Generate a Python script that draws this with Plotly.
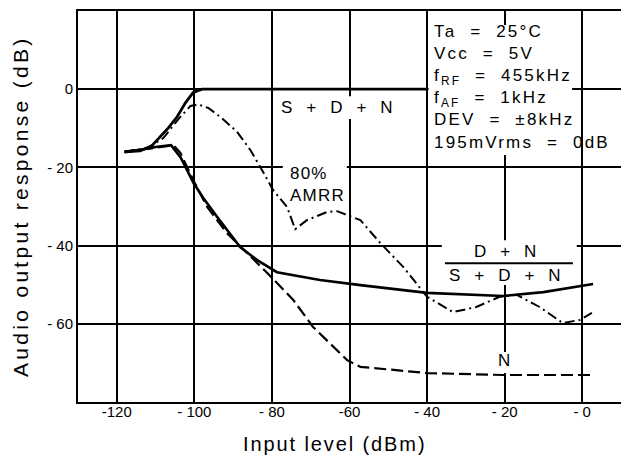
import plotly.graph_objects as go

# ---- data ----
sdn_x = [-118, -114, -111, -108.8, -106.7, -104.4, -102.3, -100.3, -98, -40]
sdn_y = [-16, -15.8, -14.5, -12.2, -9.9, -7.0, -3.5, -0.8, 0, 0]

dn_x = [-118, -114, -110, -106, -103.5, -100.2, -97.7, -94.1, -88.2, -83.8, -78.7,
        -74.5, -67.6, -57.2, -40, -20.4, -10, 2.8]
dn_y = [-16, -15.5, -14.8, -14.3, -17.5, -24, -27.8, -32.7, -40.4, -43.7, -46.8,
        -47.5, -48.8, -50.1, -52.1, -52.9, -51.9, -49.8]

n_x = [-118, -114, -110, -105.4, -103.6, -100.3, -96.7, -91.6, -86.4, -81.2, -74.5,
       -69.4, -60.6, -57.2, -40, -20.4, 2]
n_y = [-16.2, -15.5, -15.0, -14.3, -16.3, -23.2, -30.1, -36.8, -41.9, -47, -53.9,
       -60.8, -69.3, -71, -72.6, -73.1, -73.1]

am_x = [-118, -112, -108, -104, -101, -99, -96.4, -92.9, -89, -85.6, -83, -79.7,
        -76.1, -74, -71, -65.8, -63.2, -57.2, -52.1, -46.1, -40, -33.3, -27.3,
        -21.3, -16.9, -11, -5, -0.6, 2.5]
am_y = [-16, -15, -12.5, -7.5, -4.3, -3.9, -4.8, -7.4, -10.9, -15.5, -19.9, -25.8,
        -30.1, -35.8, -33.5, -31.4, -31.2, -33.5, -39.3, -45.5, -53.1, -57, -55.7,
        -53.1, -52.6, -55.7, -59.8, -59, -57.2]

x_ticks = [-120, -100, -80, -60, -40, -20, 0]
x_labels = ["-120", "- 100", "- 80", "-60", "- 40", "- 20", "- 0"]
y_ticks = [0, -20, -40, -60]
y_labels = ["0", "- 20", "- 40", "- 60"]

conditions = ["Ta  =  25°C", "Vcc  =  5V", "f<sub>RF</sub>  =  455kHz",
              "f<sub>AF</sub>  =  1kHz", "DEV  =  ±8kHz", "195mVrms  =  0dB"]

FONT = "Liberation Sans, Arial, sans-serif"


def ls(t, px=1.2):
    t = t.replace("  ", "\u00a0\u00a0")
    return f'<span style="letter-spacing:{px}px">{t}</span>'


fig = go.Figure()
fig.add_trace(go.Scatter(x=n_x, y=n_y, mode="lines",
                         line=dict(color="black", width=2.2, dash="12px,5px")))
fig.add_trace(go.Scatter(x=am_x, y=am_y, mode="lines",
                         line=dict(color="black", width=2, dash="10px,4px,2px,4px")))
fig.add_trace(go.Scatter(x=dn_x, y=dn_y, mode="lines",
                         line=dict(color="black", width=2.6)))
fig.add_trace(go.Scatter(x=sdn_x, y=sdn_y, mode="lines",
                         line=dict(color="black", width=2.8)))

# white label backgrounds covering the grid (between grid and traces)
boxes = [(-39.6, -2.6, -16.8, 16.4), (-77.2, -48.3, -7.6, -1.8),
         (-77.2, -60.7, -30.4, -18.1), (-36.2, -1.4, -50.1, -38.6),
         (-21.8, -17.4, -72.6, -67.2)]
for x0, x1, y0, y1 in boxes:
    fig.add_shape(type="rect", x0=x0, x1=x1, y0=y0, y1=y1, xref="x", yref="y",
                  fillcolor="white", line=dict(width=0), layer="between")

# fraction bar
fig.add_shape(type="line", x0=-35.4, x1=-2.4, y0=-44.5, y1=-44.5,
              line=dict(color="black", width=2), layer="above")

ann_font = dict(family=FONT, size=17, color="black")
fig.add_annotation(x=-38.8, y=17.6, xref="x", yref="y", xanchor="left", yanchor="top",
                   align="left", showarrow=False, font=ann_font,
                   text="<br>".join(ls(c, 2.2) for c in conditions))
fig.add_annotation(x=-63, y=-4.6, xref="x", yref="y", showarrow=False, font=ann_font,
                   text=ls("S  +  D  +  N", 1.5))
fig.add_annotation(x=-75.9, y=-24.3, xref="x", yref="y", xanchor="left", align="left",
                   showarrow=False, font=ann_font, text=ls("80%") + "<br>" + ls("AMRR"))
fig.add_annotation(x=-19.7, y=-41.6, xref="x", yref="y", showarrow=False, font=ann_font,
                   text=ls("D  +  N", 1.5))
fig.add_annotation(x=-19.7, y=-47.6, xref="x", yref="y", showarrow=False, font=ann_font,
                   text=ls("S  +  D  +  N", 1.5))
fig.add_annotation(x=-20.2, y=-69.4, xref="x", yref="y", showarrow=False, font=ann_font,
                   text="N")

# axis titles
fig.add_annotation(x=0.4715, y=-0.108, xref="paper", yref="paper", showarrow=False,
                   xanchor="center", yanchor="middle",
                   font=dict(family=FONT, size=20, color="black"),
                   text=ls("Input level (dBm)", 1.9))
fig.add_annotation(x=-0.106, y=0.5, xref="paper", yref="paper", showarrow=False,
                   xanchor="center", yanchor="middle", textangle=-90,
                   font=dict(family=FONT, size=21, color="black"),
                   text=ls("Audio output response (dB)", 3.3))

fig.update_layout(
    template="none",
    width=621, height=457,
    margin=dict(l=78, r=0, t=11, b=55, pad=0),
    paper_bgcolor="white", plot_bgcolor="white",
    showlegend=False,
    font=dict(family=FONT, size=15, color="black"),
)
fig.update_xaxes(range=[-130, 10], tickvals=x_ticks, ticktext=x_labels,
                 showgrid=True, gridcolor="black", gridwidth=1.5, zeroline=False,
                 showline=True, linecolor="black", linewidth=2, mirror=True,
                 ticks="", tickfont=dict(size=15), automargin=False,
                 ticklabelstandoff=-5)
fig.update_yaxes(range=[-80, 20], tickvals=y_ticks, ticktext=y_labels,
                 showgrid=True, gridcolor="black", gridwidth=1.5, zeroline=False,
                 showline=True, linecolor="black", linewidth=2, mirror=False,
                 ticks="", tickfont=dict(size=15), automargin=False)

fig.write_html("out.html", config={"displayModeBar": False},
               post_script="document.body.style.margin='0';"
                           "document.body.style.overflow='hidden';")
